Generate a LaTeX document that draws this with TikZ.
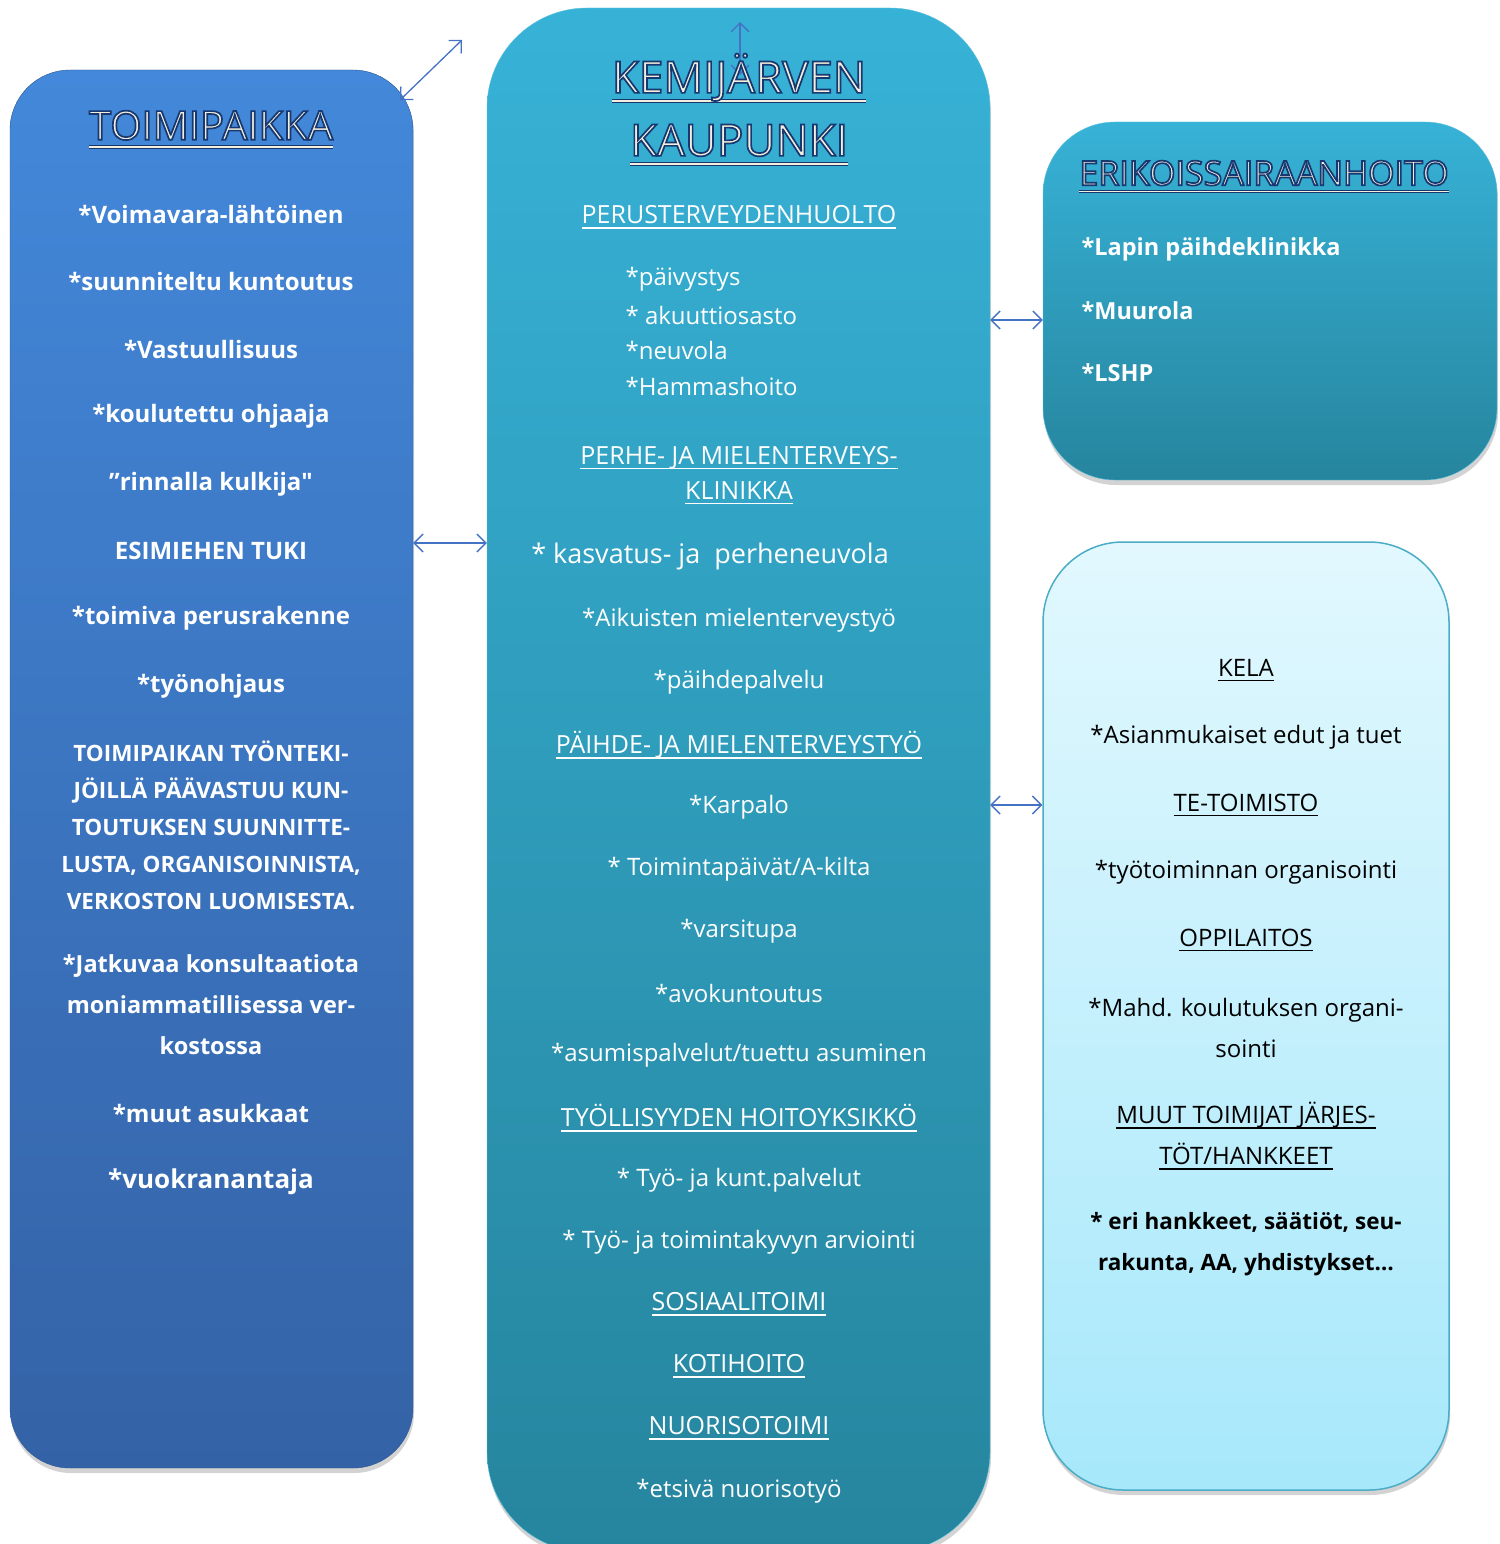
\documentclass[tikz,border=0pt]{standalone}
\usepackage{fontspec}
\setmainfont{Open Sans}
\usetikzlibrary{shadows,arrows.meta}

\definecolor{toimtop}{HTML}{4388DA}
\definecolor{toimbot}{HTML}{3462A6}
\definecolor{kemitop}{HTML}{37B2D7}
\definecolor{kemibot}{HTML}{26859E}
\definecolor{muuttop}{HTML}{E2F8FE}
\definecolor{muutbot}{HTML}{A7E8FB}
\definecolor{muutline}{HTML}{4BACC6}
\definecolor{linkblue}{HTML}{4472C4}
\definecolor{cream}{HTML}{F4EFDC}
\definecolor{titleline}{HTML}{17386F}

% thick underline that scales with the font
\newcommand\uln[1]{\leavevmode\setbox0\hbox{#1}\rlap{\raisebox{-0.2em}{\rule{\wd0}{0.06em}}}\box0}
% outlined, underlined title text
\newcommand\ttl[1]{\leavevmode\setbox0\hbox{\special{pdf:literal direct 2 Tr 1.7 w 0.09 0.22 0.44 RG}#1\special{pdf:literal direct 0 Tr}}%
  \rlap{\raisebox{-0.24em}{\textcolor{titleline}{\rule{\wd0}{0.10em}}}}%
  \rlap{\raisebox{-0.213em}{\rule{\wd0}{0.045em}}}\box0}
\newcommand\straightquote{{\addfontfeatures{Ligatures=TeXOff}"}}

\tikzset{
  shade/.style={drop shadow={opacity=0.35, shadow xshift=1pt, shadow yshift=-5pt}},
  toimbox/.style={rounded corners=60pt, inner sep=0pt, top color=toimtop, bottom color=toimbot, draw=toimbot!85!black, shade},
  kemibox/.style={rounded corners=100pt, inner sep=0pt, top color=kemitop, bottom color=kemibot, draw=kemitop!80!white, shade},
  erikbox/.style={rounded corners=72pt, inner sep=0pt, top color=kemitop, bottom color=kemibot, draw=kemitop!80!white, shade},
  muutbox/.style={rounded corners=80pt, inner sep=0pt, top color=muuttop, bottom color=muutbot, draw=muutline, line width=1.5pt, shade},
  link/.style={{Straight Barb[length=9pt,width=18pt]}-{Straight Barb[length=9pt,width=18pt]}, draw=linkblue, line width=1.3pt},
  head/.style={text=cream, align=center},
  lefttxt/.style={text=white, align=center, font=\fontsize{24}{28}\selectfont\bfseries},
  midtxt/.style={text=white, align=center, font=\fontsize{24}{28}\selectfont},
  righttxt/.style={text=white, anchor=west, font=\fontsize{23.5}{28}\selectfont\bfseries},
  darktxt/.style={text=black, align=center, font=\fontsize{24}{41}\selectfont},
}

\begin{document}
\begin{tikzpicture}[x=1pt, y=-1pt]
  \useasboundingbox (0,0) rectangle (1499,1544);

  % Boxes
  \node[toimbox, minimum width=403pt, minimum height=1398pt] (toim) at (211.5,769) {};
  \node[kemibox, minimum width=503pt, minimum height=1544pt] (kemi) at (738.5,780) {};
  \node[erikbox, minimum width=454pt, minimum height=358pt] (erik) at (1270,301) {};
  \node[muutbox, minimum width=406pt, minimum height=948pt] (muut) at (1246,1016) {};

  % Connectors
  \coordinate (toimcorner) at (400,100);
  \coordinate (diagend) at (462,40);
  \coordinate (vtop) at (740,22);
  \coordinate (vbot) at (740,75);
  \draw[link] (toimcorner) -- (diagend);
  \draw[link] (vbot) -- (vtop);
  \draw[link] (toim.east |- 0,543) -- (kemi.west |- 0,543);
  \draw[link] (kemi.east |- 0,320) -- (erik.west |- 0,320);
  \draw[link] (kemi.east |- 0,805) -- (muut.west |- 0,805);

  % Left box: toimipaikka
  \node[head, font=\fontsize{40}{44}\selectfont] (toimhead) at (211,130) {\ttl{TOIMIPAIKKA}};
  \node[lefttxt] (voima) at (211,214) {*Voimavara-lähtöinen};
  \node[lefttxt] (suunn) at (211,281) {*suunniteltu kuntoutus};
  \node[lefttxt] (vastuu) at (211,349) {*Vastuullisuus};
  \node[lefttxt] (ohjaaja) at (211,416) {*koulutettu ohjaaja};
  \node[lefttxt] (rinnalla) at (211,484) {”rinnalla kulkija\straightquote};
  \node[lefttxt] (esimies) at (211,551) {ESIMIEHEN TUKI};
  \node[lefttxt] (perusrak) at (211,618) {*toimiva perusrakenne};
  \node[lefttxt] (tyonohj) at (211,686) {*työnohjaus};
  \node[lefttxt, font=\fontsize{22.5}{37}\selectfont\bfseries] (vastuuteksti) at (211,825)
    {TOIMIPAIKAN TYÖNTEKI-\\JÖILLÄ PÄÄVASTUU KUN-\\TOUTUKSEN SUUNNITTE-\\LUSTA, ORGANISOINNISTA,\\VERKOSTON LUOMISESTA.};
  \node[lefttxt, font=\fontsize{23.5}{41}\selectfont\bfseries] (konsult) at (211,1005)
    {*Jatkuvaa konsultaatiota\\moniammatillisessa ver-\\kostossa};
  \node[lefttxt] (asukkaat) at (211,1113) {*muut asukkaat};
  \node[lefttxt, font=\fontsize{26}{30}\selectfont\bfseries] (vuokra) at (211,1182) {*vuokranantaja};

  % Middle box: kaupunki
  \node[head, font=\fontsize{44}{63}\selectfont] (kemihead) at (739,110) {\ttl{KEMIJÄRVEN}\\\ttl{KAUPUNKI}};
  \node[midtxt, font=\fontsize{25}{28}\selectfont] (perus) at (739,217) {\uln{PERUSTERVEYDENHUOLTO}};
  \node[midtxt, anchor=west] (paivys) at (622,279) {*päivystys};
  \node[midtxt, anchor=west] (akuutti) at (622,315) {* akuuttiosasto};
  \node[midtxt, anchor=west] (neuvola) at (622,350) {*neuvola};
  \node[midtxt, anchor=west] (hammas) at (622,386) {*Hammashoito};
  \node[midtxt, font=\fontsize{25}{35}\selectfont] (perhe) at (739,475) {\uln{PERHE- JA MIELENTERVEYS-}\\\uln{KLINIKKA}};
  \node[midtxt, font=\fontsize{27}{30}\selectfont] (kasvatus) at (710,556) {* kasvatus- ja\ \ perheneuvola};
  \node[midtxt] (aikuis) at (739,620) {*Aikuisten mielenterveystyö};
  \node[midtxt] (paihde) at (739,682) {*päihdepalvelu};
  \node[midtxt, font=\fontsize{25}{28}\selectfont] (paihdemt) at (739,745) {\uln{PÄIHDE- JA MIELENTERVEYSTYÖ}};
  \node[midtxt] (karpalo) at (739,807) {*Karpalo};
  \node[midtxt] (toimpv) at (739,869) {* Toimintapäivät/A-kilta};
  \node[midtxt] (varsi) at (739,931) {*varsitupa};
  \node[midtxt] (avokunt) at (739,993) {*avokuntoutus};
  \node[midtxt] (asumis) at (739,1055) {*asumispalvelut/tuettu asuminen};
  \node[midtxt, font=\fontsize{25}{28}\selectfont] (tyollis) at (739,1118) {\uln{TYÖLLISYYDEN HOITOYKSIKKÖ}};
  \node[midtxt] (kuntpalv) at (739,1180) {* Työ- ja kunt.palvelut};
  \node[midtxt] (arvio) at (739,1242) {* Työ- ja toimintakyvyn arviointi};
  \node[midtxt, font=\fontsize{25}{28}\selectfont] (sosiaali) at (739,1304) {\uln{SOSIAALITOIMI}};
  \node[midtxt, font=\fontsize{25}{28}\selectfont] (koti) at (739,1366) {\uln{KOTIHOITO}};
  \node[midtxt, font=\fontsize{25}{28}\selectfont] (nuoriso) at (739,1428) {\uln{NUORISOTOIMI}};
  \node[midtxt] (etsiva) at (739,1491) {*etsivä nuorisotyö};

  % Right top box: erikoissairaanhoito
  \node[head, font=\fontsize{34}{38}\selectfont] (erikhead) at (1264,177) {\ttl{ERIKOISSAIRAANHOITO}};
  \node[righttxt] (lapin) at (1078,249) {*Lapin päihdeklinikka};
  \node[righttxt] (muurola) at (1078,311) {*Muurola};
  \node[righttxt] (lshp) at (1078,373) {*LSHP};

  % Right bottom box: muut toimijat
  \node[darktxt] (kela) at (1246,670) {\uln{KELA}};
  \node[darktxt] (edut) at (1246,737) {*Asianmukaiset edut ja tuet};
  \node[darktxt] (tetoim) at (1246,805) {\uln{TE-TOIMISTO}};
  \node[darktxt] (tyotoim) at (1246,872) {*työtoiminnan organisointi};
  \node[darktxt] (oppil) at (1246,940) {\uln{OPPILAITOS}};
  \node[darktxt] (koulut) at (1246,1028) {*Mahd. koulutuksen organi-\\sointi};
  \node[darktxt] (muuttoim) at (1246,1136) {\uln{MUUT TOIMIJAT JÄRJES-}\\\uln{TÖT/HANKKEET}};
  \node[darktxt, font=\fontsize{22.5}{41}\selectfont\bfseries] (hankkeet) at (1246,1244) {* eri hankkeet, säätiöt, seu-\\rakunta, AA, yhdistykset…};
\end{tikzpicture}
\end{document}
